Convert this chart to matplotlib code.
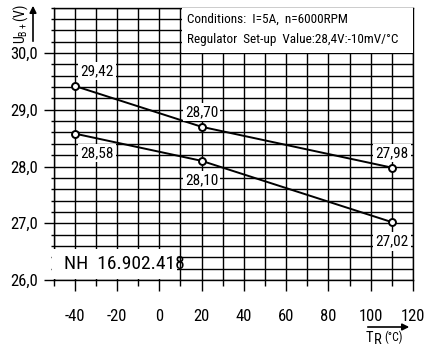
#!/usr/bin/python3
'''
Regulated voltage vs. regulator temperature (NH 16.902.418)
'''

#------------------
# Import
#------------------

import matplotlib
matplotlib.use('Agg')
import matplotlib.pyplot as plt
from matplotlib.patches import Rectangle, FancyArrowPatch
from matplotlib.ticker import MultipleLocator, FixedLocator

#------------------
# Data
#------------------

temps = [-40, 20, 110]
upper_volts = [29.42, 28.70, 27.98]
lower_volts = [28.58, 28.10, 27.02]
upper_labels = ["29,42", "28,70", "27,98"]
lower_labels = ["28,58", "28,10", "27,02"]

x_ticks = [-40, -20, 0, 20, 40, 60, 80, 100, 120]
y_ticks = [26.0, 27.0, 28.0, 29.0, 30.0]
y_tick_labels = ["26,0", "27,0", "28,0", "29,0", "30,0"]

FONT = ['Roboto Condensed', 'DejaVu Sans']
plt.rcParams['font.family'] = FONT

#------------------
# Figure
#------------------

fig = plt.figure(figsize=(4.25, 3.47), dpi=100)
W, H = 425.0, 347.0
ax = fig.add_axes([53.5 / W, 1 - 280.0 / H, (413.0 - 53.5) / W, (280.0 - 7.6) / H])

ax.set_xlim(-50, 120)
ax.set_ylim(26.0, 30.8)

# grid: every 10 degC and every 0.2 V
ax.xaxis.set_major_locator(FixedLocator(x_ticks))
ax.xaxis.set_minor_locator(MultipleLocator(10))
ax.yaxis.set_major_locator(FixedLocator(y_ticks))
ax.yaxis.set_minor_locator(MultipleLocator(0.2))
ax.set_xticklabels([str(t) for t in x_ticks])
ax.set_yticklabels(y_tick_labels)
ax.grid(which='both', color='black', linewidth=1.0)
ax.set_axisbelow(True)

ax.tick_params(axis='x', which='major', length=8, width=1.0, pad=13, labelsize=12, direction='out')
ax.tick_params(axis='x', which='minor', length=4, width=1.0, direction='out')
ax.tick_params(axis='y', which='major', length=7.5, width=1.0, pad=4, labelsize=12, direction='out')
ax.tick_params(axis='y', which='minor', length=2.5, width=1.0, direction='out')
for s in ax.spines.values():
    s.set_linewidth(1.0)

# curves
for volts, labels, dy in [(upper_volts, upper_labels, 0.26), (lower_volts, lower_labels, -0.34)]:
    ax.plot(temps, volts, color='black', linewidth=1.4, marker='o', markersize=5,
            markerfacecolor='white', markeredgecolor='black', markeredgewidth=1.4, zorder=4)
    for i, (t, v, lab) in enumerate(zip(temps, volts, labels)):
        tx = t + 10.5 if i == 0 else t
        ax.text(tx, v + dy, lab, ha='center', va='center', fontsize=11, zorder=5,
                bbox=dict(facecolor='white', edgecolor='none', pad=1.5))

# white boxes
ax.add_patch(Rectangle((11, 30.0), 109, 0.8, facecolor='white', edgecolor='none', zorder=3, clip_on=False))
ax.text(13, 30.59, "Conditions:  I=5A,  n=6000RPM", fontsize=9.5, va='center', ha='left', zorder=5)
ax.text(13, 30.24, "Regulator  Set-up  Value:28,4V:-10mV/°C", fontsize=9.5, va='center', ha='left', zorder=5)

ax.add_patch(Rectangle((-50.6, 26.01), 58.8, 0.54, facecolor='white', edgecolor='none', zorder=3, clip_on=False))
ax.text(-45, 26.28, "NH  16.902.418", fontsize=14, va='center', ha='left', zorder=5)

# axis captions with arrows
fig.text(21 / W, 1 - 24 / H, "U$_\\mathregular{B+}$(V)", rotation=90, fontsize=10,
         ha='center', va='center')
fig.add_artist(FancyArrowPatch((33 / W, 1 - 44 / H), (33 / W, 1 - 3 / H),
               transform=fig.transFigure, arrowstyle='-|>', mutation_scale=10, linewidth=1.2, color='black'))

fig.add_artist(FancyArrowPatch((365 / W, 1 - 327 / H), (412 / W, 1 - 327 / H),
               transform=fig.transFigure, arrowstyle='-|>', mutation_scale=10, linewidth=1.2, color='black'))
fig.text(366 / W, 1 - 338 / H, "T", fontsize=10.5, ha='left', va='center')
fig.text(374 / W, 1 - 340 / H, "R", fontsize=10.5, ha='left', va='center')
fig.text(384 / W, 1 - 337 / H, "(°C)", fontsize=8.5, ha='left', va='center')

fig.savefig('out.png', dpi=100)
